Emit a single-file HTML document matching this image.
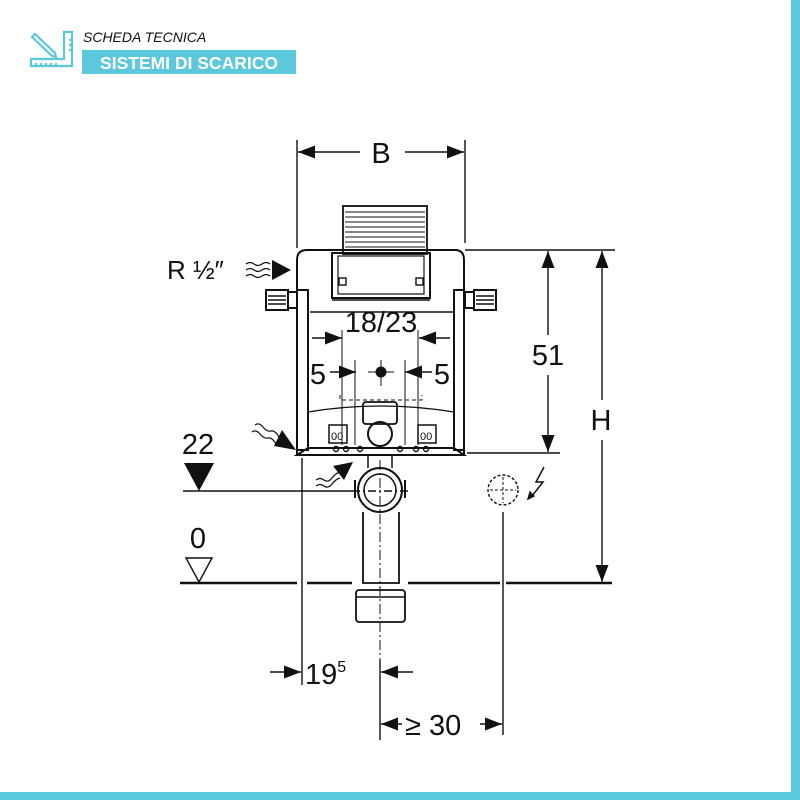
<!DOCTYPE html>
<html><head><meta charset="utf-8"><style>
html,body{margin:0;padding:0;background:#fff}
svg{display:block}
text{font-family:"Liberation Sans",sans-serif}
</style></head><body>
<svg width="800" height="800" viewBox="0 0 800 800" xmlns="http://www.w3.org/2000/svg">
<defs>
<marker id="a" viewBox="0 0 10 10" refX="10" refY="5" markerWidth="17" markerHeight="13" markerUnits="userSpaceOnUse" orient="auto" preserveAspectRatio="none"><path d="M0,0L10,5L0,10z" fill="#111"/></marker>
</defs>
<rect x="0" y="0" width="800" height="800" fill="#fff"/>
<rect x="791" y="0" width="9" height="800" fill="#5bc8dc"/>
<rect x="0" y="792" width="800" height="8" fill="#5bc8dc"/>
<g stroke="#5bc8dc" stroke-width="2.2" fill="none">
<path d="M31,66 H72 V32 H64 V59 H31 Z"/>
<path d="M32,37 L52,56 L56,57 L55,53 L35,34 Z"/>
<path d="M36,66v-3M41,66v-3M46,66v-3M51,66v-3M56,66v-3M72,40h-3M72,45h-3M72,50h-3"/>
</g>
<text x="83" y="42" font-size="14" font-style="italic" fill="#111">SCHEDA TECNICA</text>
<rect x="82" y="50" width="214" height="24" fill="#5bc8dc"/>
<text x="189" y="69" font-size="17.5" font-weight="bold" fill="#fff" text-anchor="middle">SISTEMI DI SCARICO</text>

<g stroke="#111" fill="none" stroke-width="1.4">
<line x1="297" y1="140" x2="297" y2="248"/>
<line x1="465" y1="140" x2="465" y2="243"/>
<line x1="360" y1="152" x2="298" y2="152" marker-end="url(#a)"/>
<line x1="405" y1="152" x2="464" y2="152" marker-end="url(#a)"/>
<rect x="343" y="206" width="84" height="48" stroke-width="1.8"/>
<path d="M345,212h80M345,217h80M345,222h80M345,227h80M345,232h80M345,237h80M345,242h80M345,247h80" stroke-width="1"/>
<path d="M297,455 V260 Q297,250 307,250 H455 Q464,250 464,260 V455 Z" stroke-width="2"/>
<rect x="332" y="253" width="98" height="45" stroke-width="2"/>
<path d="M332,300 H430 M310,312 H455" stroke-width="1.5"/>
<rect x="338" y="256" width="86" height="38" stroke-width="1.2"/>
<rect x="339" y="278" width="7" height="7"/><rect x="416" y="278" width="7" height="7"/>
<rect x="297" y="290" width="11" height="160" stroke-width="2"/>
<rect x="454" y="290" width="10" height="160" stroke-width="2"/>
<path d="M308,448 H454 L464,455 H297 Z" stroke-width="2"/>
<rect x="266" y="290" width="22" height="20" stroke-width="2"/>
<path d="M268,296h18M268,300h18M268,304h18"/>
<rect x="288" y="292" width="9" height="16" stroke-width="2"/>
<rect x="474" y="290" width="22" height="20" stroke-width="2"/>
<path d="M476,296h18M476,300h18M476,304h18"/>
<rect x="465" y="292" width="9" height="16" stroke-width="2"/>
<path d="M308,412 Q380,400 454,412" stroke-width="1.2"/>
<rect x="363" y="402" width="34" height="22" rx="3" stroke-width="1.8"/>
<circle cx="380" cy="434" r="12" stroke-width="2"/>
<rect x="329" y="425" width="18" height="18" stroke-width="1.5"/>
<rect x="418" y="425" width="18" height="18" stroke-width="1.5"/>
<text x="331" y="440" font-size="11" fill="#111" stroke="none">00</text>
<text x="420" y="440" font-size="11" fill="#111" stroke="none">00</text>
<circle cx="336" cy="449" r="2.5"/><circle cx="346" cy="449" r="2.5"/><circle cx="360" cy="449" r="2.5"/>
<circle cx="400" cy="449" r="2.5"/><circle cx="416" cy="449" r="2.5"/><circle cx="426" cy="449" r="2.5"/>
<path d="M342,330 V445 M355,360 V445 M405,360 V445 M418,330 V445" stroke-width="1"/>
<path d="M340,395 V400 H422 V395" stroke-dasharray="4,3" stroke-width="1"/>
<line x1="312" y1="338" x2="342" y2="338" marker-end="url(#a)"/>
<line x1="450" y1="338" x2="419" y2="338" marker-end="url(#a)"/>
<line x1="330" y1="372" x2="356" y2="372" marker-end="url(#a)"/>
<line x1="432" y1="372" x2="405" y2="372" marker-end="url(#a)"/>
<path d="M368,372h26M381,360v26" stroke-width="1"/>
<line x1="465" y1="250" x2="560" y2="250"/>
<line x1="467" y1="453" x2="560" y2="453"/>
<line x1="548" y1="335" x2="548" y2="251" marker-end="url(#a)"/>
<line x1="548" y1="375" x2="548" y2="452" marker-end="url(#a)"/>
<line x1="560" y1="250" x2="615" y2="250"/>
<line x1="602" y1="400" x2="602" y2="251" marker-end="url(#a)"/>
<line x1="602" y1="440" x2="602" y2="582" marker-end="url(#a)"/>
<line x1="183" y1="491" x2="352" y2="491"/>
<path d="M352,491 H410" stroke-dasharray="8,3,2,3"/>
<path d="M186,558 H212 L199,582 Z"/>
<path d="M180,583 H297 M307,583 H352 M408,583 H500 M506,583 H612" stroke-width="2.4"/>
<circle cx="380" cy="490" r="22" stroke-width="2"/>
<circle cx="380" cy="490" r="16" stroke-width="1.5"/>
<path d="M355,480 V498 M405,480 V498" stroke-width="2"/>
<path d="M368,455 V468 M392,455 V468" stroke-width="1.5"/>
<path d="M363,512 V583 H399 V512" stroke-width="1.8"/>
<rect x="356" y="590" width="49" height="32" rx="3" stroke-width="1.8"/>
<line x1="356" y1="597" x2="405" y2="597"/>
<path d="M380,460 V740" stroke-dasharray="10,3,2,3" stroke-width="1"/>
<line x1="302" y1="458" x2="302" y2="685"/>
<line x1="503" y1="512" x2="503" y2="735"/>
<circle cx="503" cy="490" r="15" stroke-dasharray="3,2"/>
<path d="M490,490h26M503,477v26" stroke-dasharray="3,2" stroke-width="1"/>
<path d="M544,467 L536,482 L543,482 L532,496" stroke-width="1.5"/>
<path d="M530,492 L528,499 L534,496 Z" fill="#111"/>
<line x1="270" y1="672" x2="301" y2="672" marker-end="url(#a)"/>
<line x1="413" y1="672" x2="381" y2="672" marker-end="url(#a)"/>
<line x1="380" y1="660" x2="380" y2="740"/>
<line x1="402" y1="724" x2="381" y2="724" marker-end="url(#a)"/>
<line x1="480" y1="724" x2="502" y2="724" marker-end="url(#a)"/>
<path d="M246,264 q4,-3 8,0 t8,0 t8,0 M246,270 q4,-3 8,0 t8,0 t8,0 M246,276 q4,-3 8,0 t8,0 t8,0" stroke-width="1.2"/>
<path d="M255,425 q4,-3 8,2 t8,4 t8,6 M252,432 q4,-3 8,2 t8,4 t8,6" stroke-width="1.2"/>
<path d="M316,480 q4,-3 8,0 t8,-2 t8,-6 M316,486 q4,-3 8,0 t8,-2 t8,-6" stroke-width="1.2"/>
</g>
<g fill="#111">
<path d="M272,260 L291,270 L272,280 Z"/>
<path d="M282,430 L296,450 L274,446 Z"/>
<path d="M333,466 L353,462 L344,480 Z"/>
<path d="M184,463 H214 L199,491 Z"/>
<circle cx="381" cy="372" r="5.5"/>
</g>
<g fill="#111" font-size="29">
<text x="381" y="163" text-anchor="middle">B</text>
<text x="167" y="279" font-size="26">R ½″</text>
<text x="381" y="332" text-anchor="middle">18/23</text>
<text x="318" y="384" text-anchor="middle">5</text>
<text x="442" y="384" text-anchor="middle">5</text>
<text x="548" y="365" text-anchor="middle">51</text>
<text x="601" y="430" text-anchor="middle">H</text>
<text x="198" y="454" text-anchor="middle">22</text>
<text x="198" y="548" text-anchor="middle">0</text>
<text x="305" y="684">19<tspan font-size="16" dy="-12">5</tspan></text>
<text x="405" y="735">≥ 30</text>
</g>
</svg>
</body></html>
